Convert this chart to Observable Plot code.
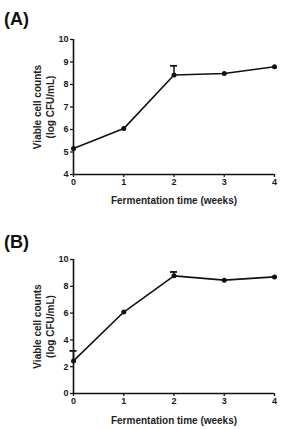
<!DOCTYPE html>
<html>
<head>
<meta charset="utf-8">
<script src="https://cdn.jsdelivr.net/npm/d3@7"></script>
<script src="https://cdn.jsdelivr.net/npm/@observablehq/plot@0.6"></script>
<style>
  html, body { margin: 0; padding: 0; background: #fff; }
  #root { position: relative; width: 287px; height: 429px; font-family: "Liberation Sans", Arial, sans-serif; }
  .panel { position: absolute; left: 0; }
  .tag { position: absolute; left: 4px; font-weight: bold; font-size: 18px; color: #111; }
</style>
</head>
<body>
<div id="root"></div>
<script>
const weeks = [0, 1, 2, 3, 4];
const countsA = [5.16, 6.04, 8.42, 8.49, 8.79];
const errA = [0, 0, 0.41, 0, 0];
const countsB = [2.43, 6.08, 8.78, 8.46, 8.70];
const errB = [0.75, 0, 0.29, 0, 0];
const yTicksA = [4, 5, 6, 7, 8, 9, 10];
const yTicksB = [0, 2, 4, 6, 8, 10];
const xTitle = "Fermentation time (weeks)";
const yTitle = "Viable cell counts\n(log CFU/mL)";

function panel(counts, errs, yDomain, yTicks, opts) {
  const data = weeks.map((w, i) => ({week: w, value: counts[i], upper: counts[i] + errs[i], hasErr: errs[i] > 0}));
  const errData = data.filter(d => d.hasErr);
  return Plot.plot({
    width: 287,
    height: opts.height,
    marginLeft: 73,
    marginRight: 13,
    marginTop: opts.marginTop,
    marginBottom: opts.marginBottom,
    style: {fontFamily: "'Liberation Sans', Arial, sans-serif", color: "#1a1a1a", background: "#fff"},
    x: {domain: [0, 4]},
    y: {domain: yDomain},
    marks: [
      Plot.axisX({ticks: weeks, tickSize: 3, tickPadding: 1, tickFormat: d3.format("d"), label: null, fontSize: 9, fontWeight: "bold", strokeWidth: 1.3}),
      Plot.axisY({ticks: yTicks, tickSize: 3, tickPadding: 2, tickFormat: d3.format("d"), label: null, fontSize: 9, fontWeight: "bold", strokeWidth: 1.3}),
      Plot.ruleX([0], {stroke: "#111", strokeWidth: 1.6}),
      Plot.ruleY([yDomain[0]], {stroke: "#111", strokeWidth: 1.6}),
      Plot.ruleX(errData, {x: "week", y1: "value", y2: "upper", stroke: "#111", strokeWidth: 1.5}),
      Plot.ruleY(errData, {y: "upper", x1: d => d.week - 0.07, x2: d => d.week + 0.07, stroke: "#111", strokeWidth: 1.8}),
      Plot.line(data, {x: "week", y: "value", stroke: "#111", strokeWidth: 1.6}),
      Plot.dot(data, {x: "week", y: "value", r: 2.5, fill: "#111"}),
      Plot.text([xTitle], {frameAnchor: "bottom", dy: opts.xTitleDy, textAnchor: "middle", lineAnchor: "middle", fontSize: 10, fontWeight: "bold", fill: "#222"}),
      Plot.text([yTitle], {frameAnchor: "left", dx: -30, rotate: -90, textAnchor: "middle", lineAnchor: "middle", fontSize: 10, fontWeight: "bold", lineHeight: 1.3, fill: "#222"})
    ]
  });
}

const root = document.getElementById("root");

const a = panel(countsA, errA, [4, 10], yTicksA, {height: 214, marginTop: 39, marginBottom: 40, xTitleDy: 26});
a.classList.add("panel"); a.style.top = "0px";
root.appendChild(a);

const b = panel(countsB, errB, [0, 10], yTicksB, {height: 215, marginTop: 45, marginBottom: 36, xTitleDy: 27});
b.classList.add("panel"); b.style.top = "214px";
root.appendChild(b);

const tagA = document.createElement("div");
tagA.className = "tag"; tagA.textContent = "(A)"; tagA.style.top = "9px";
root.appendChild(tagA);
const tagB = document.createElement("div");
tagB.className = "tag"; tagB.textContent = "(B)"; tagB.style.top = "232px";
root.appendChild(tagB);
</script>
</body>
</html>
